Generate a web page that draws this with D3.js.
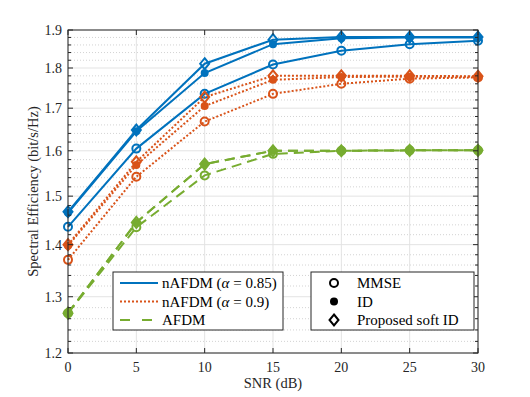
<!DOCTYPE html>
<html><head><meta charset="utf-8">
<script src="https://cdn.jsdelivr.net/npm/d3@7"></script>
<style>body{margin:0;background:#fff}svg{display:block}</style>
</head><body><svg id="c" width="530" height="397" font-family="'Liberation Serif', 'DejaVu Serif', serif"></svg>
<script>
const snr = [0, 5, 10, 15, 20, 25, 30];
const blueMMSE = [1.436, 1.605, 1.735, 1.809, 1.845, 1.862, 1.871];
const blueID   = [1.465, 1.645, 1.787, 1.862, 1.878, 1.880, 1.880];
const blueSoft = [1.467, 1.648, 1.811, 1.874, 1.881, 1.881, 1.881];
const orMMSE = [1.370, 1.542, 1.668, 1.735, 1.760, 1.773, 1.776];
const orID   = [1.398, 1.568, 1.705, 1.770, 1.777, 1.778, 1.778];
const orSoft = [1.400, 1.575, 1.727, 1.780, 1.780, 1.780, 1.779];
const grMMSE = [1.270, 1.435, 1.545, 1.593, 1.600, 1.601, 1.601];
const grID   = [1.270, 1.445, 1.570, 1.600, 1.600, 1.601, 1.601];
const grSoft = [1.270, 1.445, 1.570, 1.600, 1.600, 1.601, 1.601];
const yTicks = [1.2, 1.3, 1.4, 1.5, 1.6, 1.7, 1.8, 1.9];
const xTicks = [0, 5, 10, 15, 20, 25, 30];
const legendLines = ["nAFDM (\u03B1 = 0.85)", "nAFDM (\u03B1 = 0.9)", "AFDM"];
const legendMarkers = ["MMSE", "ID", "Proposed soft ID"];

const C = {blue:"#0072BD", orange:"#D95319", green:"#77AC30", ax:"#262626"};
const L = 68, R = 478, T = 30, B = 353;
const svg = d3.select("#c");
const x = d3.scaleLinear().domain([0, 30]).range([L, R]);
const y = d3.scaleLog().domain([1.2, 1.9]).range([B, T]);

const minorY = [];
for (let i = 0; i <= 35; i++) { const v = +(1.2 + i * 0.02).toFixed(2); if (i % 5 !== 0) minorY.push(v); }

const g = svg.append("g");
g.selectAll(".mg").data(minorY).join("line")
  .attr("x1", L).attr("x2", R).attr("y1", d => y(d)).attr("y2", d => y(d))
  .attr("stroke", "#c8c8c8").attr("stroke-width", 0.8).attr("stroke-dasharray", "1,2");
g.selectAll(".gy").data(yTicks).join("line")
  .attr("x1", L).attr("x2", R).attr("y1", d => y(d)).attr("y2", d => y(d))
  .attr("stroke", "#e3e3e3").attr("stroke-width", 1);
g.selectAll(".gx").data(xTicks).join("line")
  .attr("y1", T).attr("y2", B).attr("x1", d => x(d)).attr("x2", d => x(d))
  .attr("stroke", "#e3e3e3").attr("stroke-width", 1);

const series = [
  {v: blueMMSE, c: C.blue, dash: null, m: "o"},
  {v: blueID, c: C.blue, dash: null, m: "."},
  {v: blueSoft, c: C.blue, dash: null, m: "d"},
  {v: orMMSE, c: C.orange, dash: "2,2", m: "o"},
  {v: orID, c: C.orange, dash: "2,2", m: "."},
  {v: orSoft, c: C.orange, dash: "2,2", m: "d"},
  {v: grMMSE, c: C.green, dash: "10,6", m: "o"},
  {v: grID, c: C.green, dash: "10,6", m: "."},
  {v: grSoft, c: C.green, dash: "10,6", m: "d"}
];
const line = d3.line().x((d, i) => x(snr[i])).y(d => y(d));
function marker(sel, m, c, cx, cy) {
  if (m === "o") sel.append("circle").attr("cx", cx).attr("cy", cy).attr("r", 4).attr("fill", "none").attr("stroke", c).attr("stroke-width", 2);
  else if (m === ".") sel.append("circle").attr("cx", cx).attr("cy", cy).attr("r", 4).attr("fill", c);
  else sel.append("path").attr("d", `M${cx},${cy-5.5}L${cx+4.5},${cy}L${cx},${cy+5.5}L${cx-4.5},${cy}Z`).attr("fill", "none").attr("stroke", c).attr("stroke-width", 2);
}
series.forEach(s => {
  const p = g.append("path").datum(s.v).attr("d", line).attr("fill", "none").attr("stroke", s.c).attr("stroke-width", 2);
  if (s.dash) p.attr("stroke-dasharray", s.dash);
  const mg = g.append("g");
  s.v.forEach((v, i) => marker(mg, s.m, s.c, x(snr[i]), y(v)));
});

const ax = svg.append("g").attr("fill", C.ax);
ax.append("rect").attr("x", L).attr("y", T).attr("width", R - L).attr("height", B - T).attr("fill", "none").attr("stroke", C.ax).attr("stroke-width", 1);
xTicks.forEach(t => {
  ax.append("line").attr("x1", x(t)).attr("x2", x(t)).attr("y1", B).attr("y2", B - 5).attr("stroke", C.ax);
  ax.append("line").attr("x1", x(t)).attr("x2", x(t)).attr("y1", T).attr("y2", T + 5).attr("stroke", C.ax);
  ax.append("text").attr("x", x(t)).attr("y", 372).attr("text-anchor", "middle").attr("font-size", 14).text(t);
});
yTicks.forEach(t => {
  ax.append("line").attr("x1", L).attr("x2", L + 5).attr("y1", y(t)).attr("y2", y(t)).attr("stroke", C.ax);
  ax.append("line").attr("x1", R).attr("x2", R - 5).attr("y1", y(t)).attr("y2", y(t)).attr("stroke", C.ax);
  ax.append("text").attr("x", 62).attr("y", y(t) + 5).attr("text-anchor", "end").attr("font-size", 14).text(t.toFixed(1));
});
minorY.forEach(t => {
  ax.append("line").attr("x1", L).attr("x2", L + 3).attr("y1", y(t)).attr("y2", y(t)).attr("stroke", C.ax);
  ax.append("line").attr("x1", R).attr("x2", R - 3).attr("y1", y(t)).attr("y2", y(t)).attr("stroke", C.ax);
});
ax.append("text").attr("x", (L + R) / 2).attr("y", 388).attr("text-anchor", "middle").attr("font-size", 14.5).text("SNR (dB)");
ax.append("text").attr("transform", `translate(38,${(T + B) / 2}) rotate(-90)`).attr("text-anchor", "middle").attr("font-size", 14.5).text("Spectral Efficiency (bit/s/Hz)");

const lg1 = svg.append("g").attr("fill", "#000");
lg1.append("rect").attr("x", 113).attr("y", 272).attr("width", 170).attr("height", 58).attr("fill", "#fff").attr("stroke", C.ax).attr("stroke-width", 1);
const lcol = [C.blue, C.orange, C.green], ldash = [null, "2,2", "10,12"], ly = [283, 301.5, 320];
legendLines.forEach((t, i) => {
  const l = lg1.append("line").attr("x1", 120).attr("x2", 158).attr("y1", ly[i]).attr("y2", ly[i]).attr("stroke", lcol[i]).attr("stroke-width", 2);
  if (ldash[i]) l.attr("stroke-dasharray", ldash[i]);
  const tx = lg1.append("text").attr("x", 162).attr("y", ly[i] + 5).attr("font-size", 15);
  const parts = t.split("\u03B1");
  if (parts.length > 1) {
    tx.append("tspan").text(parts[0]);
    tx.append("tspan").attr("font-style", "italic").text("\u03B1");
    tx.append("tspan").text(parts[1]);
  } else tx.text(t);
});
const lg2 = svg.append("g").attr("fill", "#000");
lg2.append("rect").attr("x", 311).attr("y", 272).attr("width", 163).attr("height", 58).attr("fill", "#fff").attr("stroke", C.ax).attr("stroke-width", 1);
const ms = ["o", ".", "d"];
legendMarkers.forEach((t, i) => {
  marker(lg2, ms[i], "#000", 334, ly[i]);
  lg2.append("text").attr("x", 357).attr("y", ly[i] + 5).attr("font-size", 15).text(t);
});
</script></body></html>
